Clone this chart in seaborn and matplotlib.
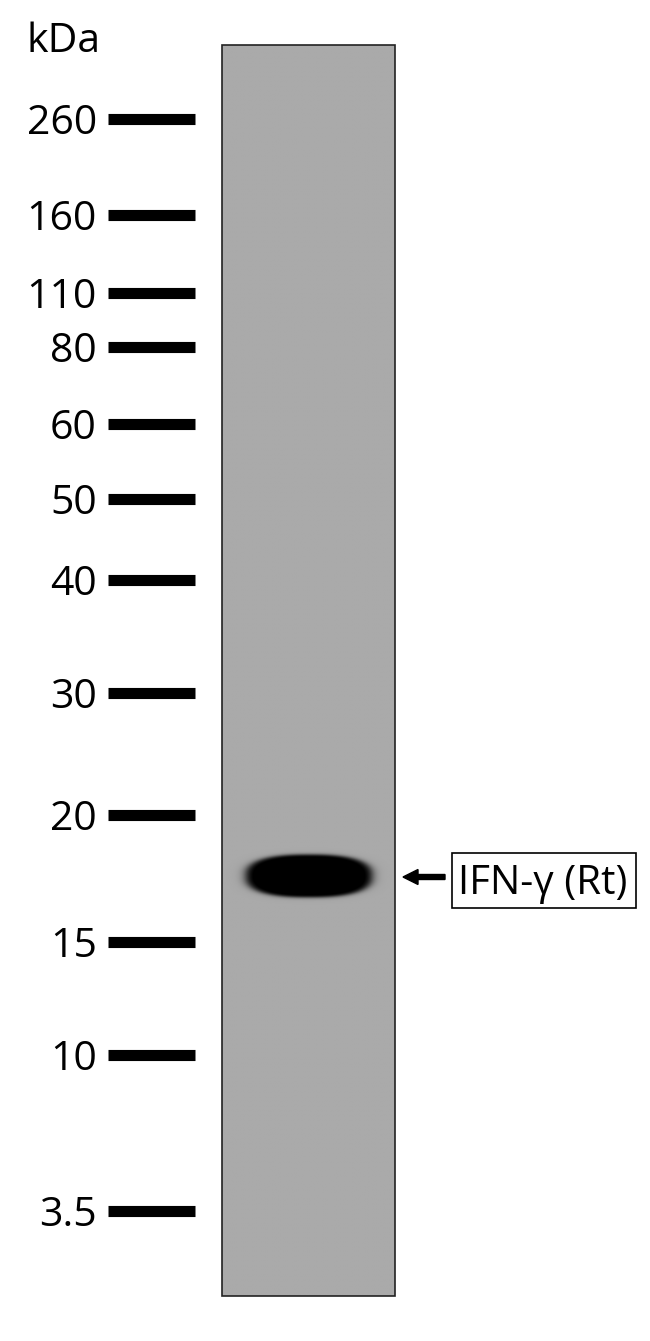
import numpy as np
import matplotlib
matplotlib.use("Agg")
import matplotlib.pyplot as plt
import seaborn as sns
from matplotlib.patches import Rectangle, FancyArrow

sns.set_theme(style="white")
plt.rcParams['font.family'] = ['Open Sans', 'DejaVu Sans']

# ---- data ----
marker_labels = ["260", "160", "110", "80", "60", "50", "40", "30", "20", "15", "10", "3.5"]
marker_y = [119, 215, 293, 347, 424, 499, 580, 693, 815, 942, 1055, 1211]
band_label = "IFN-γ (Rt)"
band_y = 876          # migration position of the detected band
band_intensity = 1.0  # saturated band
lane_gray = 0.665     # background grey of the membrane

W, H = 650, 1341
fig = plt.figure(figsize=(W / 100, H / 100), dpi=100)
ax = fig.add_axes([0, 0, 1, 1])
ax.set_xlim(0, W)
ax.set_ylim(H, 0)
ax.axis("off")

# lane
lx0, lx1, ly0, ly1 = 222, 395, 45, 1296
xs = np.linspace(lx0, lx1, 400)
ys = np.linspace(ly0, ly1, 2600)
X, Y = np.meshgrid(xs, ys)
cx, hw, hh = 309, 65, 22
dx = (X - cx) / hw
dy = (Y - band_y) / hh
r = (np.abs(dx) ** 2.5 + np.abs(dy) ** 2.5) ** (1 / 2.5)
dark = band_intensity / (1 + np.exp((r - 0.97) / 0.045))
dark = np.clip(dark * 1.08, 0, 1)
img = lane_gray * (1 - dark)
ax.imshow(img, cmap="gray", vmin=0, vmax=1, extent=(lx0, lx1, ly1, ly0),
          aspect="auto", interpolation="bilinear", zorder=1)
ax.add_patch(Rectangle((lx0, ly0), lx1 - lx0, ly1 - ly0, fill=False,
                       edgecolor="#222222", linewidth=1.2, zorder=2))

# markers
ax.hlines(marker_y, 108, 195, colors="black", linewidth=8, capstyle="butt")
for lab, y in zip(marker_labels, marker_y):
    ax.text(97, y, lab, ha="right", va="center_baseline", fontsize=29.5, color="black")
ax.text(26, 52, "kDa", ha="left", va="baseline", fontsize=29.5, color="black")

# arrow and label
ax.add_patch(FancyArrow(445, band_y + 1, -42, 0, width=5, head_width=15,
                        head_length=15, length_includes_head=True,
                        color="black", zorder=3))
ax.add_patch(Rectangle((452, 853), 184, 55, fill=False, edgecolor="black",
                       linewidth=1.2, zorder=3))
ax.text(543, band_y + 3, band_label, ha="center", va="center_baseline",
        fontsize=29, color="black")

fig.savefig("out.png", dpi=100)
